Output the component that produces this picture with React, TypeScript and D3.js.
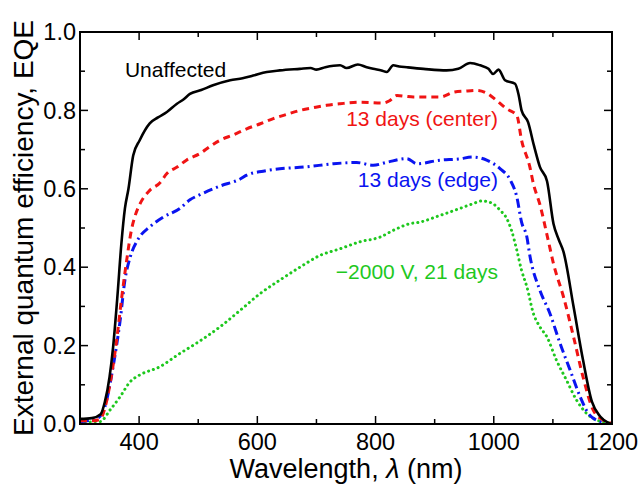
import React from "react";
import * as d3 from "d3";

// Wavelength (nm) and EQE samples for each curve
const unaffectedWl = [300, 320, 335, 342, 350, 356, 363, 370, 376, 382, 390, 401, 418, 432, 447, 464, 475, 486, 505, 525, 554, 575, 593, 616, 638, 672, 690, 700, 715, 740, 751, 770, 785, 796, 810, 819, 830, 840, 853, 881, 920, 940, 960, 977, 991, 999, 1008, 1019, 1036, 1042, 1047, 1058, 1068, 1078, 1090, 1101, 1110, 1118, 1135, 1151, 1166, 1180, 1194, 1200];
const unaffectedEqe = [0.013, 0.015, 0.025, 0.056, 0.12, 0.196, 0.32, 0.46, 0.55, 0.6, 0.685, 0.724, 0.767, 0.782, 0.796, 0.817, 0.828, 0.842, 0.852, 0.864, 0.877, 0.882, 0.889, 0.898, 0.902, 0.906, 0.908, 0.904, 0.91, 0.915, 0.908, 0.917, 0.91, 0.906, 0.902, 0.898, 0.915, 0.912, 0.91, 0.906, 0.902, 0.906, 0.921, 0.915, 0.906, 0.893, 0.904, 0.877, 0.868, 0.84, 0.8, 0.77, 0.71, 0.656, 0.62, 0.511, 0.47, 0.439, 0.299, 0.163, 0.057, 0.019, 0.003, 0.0];

const centerWl = [300, 320, 334, 342, 351, 362, 370, 379, 387, 393, 401, 418, 435, 447, 465, 480, 503, 520, 537, 560, 582, 605, 627, 650, 672, 695, 717, 740, 775, 813, 824, 836, 850, 864, 909, 934, 950, 971, 988, 1005, 1022, 1039, 1047, 1061, 1067, 1078, 1092, 1101, 1118, 1135, 1151, 1168, 1185, 1200];
const centerEqe = [0.008, 0.008, 0.012, 0.04, 0.104, 0.214, 0.316, 0.418, 0.495, 0.53, 0.56, 0.596, 0.615, 0.639, 0.656, 0.673, 0.69, 0.708, 0.724, 0.738, 0.753, 0.766, 0.779, 0.79, 0.8, 0.807, 0.813, 0.817, 0.821, 0.819, 0.825, 0.838, 0.836, 0.834, 0.834, 0.847, 0.849, 0.851, 0.844, 0.825, 0.804, 0.787, 0.724, 0.656, 0.613, 0.56, 0.469, 0.409, 0.324, 0.222, 0.12, 0.036, 0.01, 0.002];

const edgeWl = [300, 311, 330, 342, 356, 368, 376, 385, 399, 418, 441, 469, 486, 503, 537, 571, 582, 610, 638, 683, 729, 768, 796, 820, 853, 870, 909, 940, 965, 988, 1011, 1028, 1039, 1047, 1056, 1061, 1078, 1095, 1112, 1129, 1146, 1160, 1180, 1200];
const edgeEqe = [0.005, 0.008, 0.015, 0.044, 0.146, 0.265, 0.367, 0.426, 0.473, 0.503, 0.528, 0.55, 0.572, 0.585, 0.607, 0.625, 0.635, 0.645, 0.651, 0.656, 0.664, 0.667, 0.66, 0.668, 0.677, 0.664, 0.673, 0.676, 0.681, 0.673, 0.651, 0.622, 0.579, 0.515, 0.477, 0.43, 0.341, 0.282, 0.206, 0.138, 0.07, 0.027, 0.006, 0.0];

const pidWl = [300, 311, 334, 351, 368, 385, 401, 435, 469, 497, 537, 571, 605, 638, 672, 706, 740, 774, 808, 830, 858, 875, 909, 943, 965, 980, 996, 1011, 1022, 1030, 1039, 1047, 1056, 1067, 1078, 1090, 1106, 1123, 1140, 1157, 1174, 1200];
const pidEqe = [0.003, 0.005, 0.006, 0.036, 0.07, 0.108, 0.125, 0.146, 0.18, 0.206, 0.248, 0.29, 0.333, 0.367, 0.4, 0.43, 0.447, 0.465, 0.477, 0.494, 0.511, 0.515, 0.532, 0.55, 0.562, 0.569, 0.564, 0.545, 0.524, 0.494, 0.443, 0.392, 0.35, 0.282, 0.248, 0.222, 0.163, 0.112, 0.061, 0.027, 0.01, 0.002];

const xMajorTicks = [400, 600, 800, 1000, 1200];
const xMinorTicks = [300, 500, 700, 900, 1100];
const yMajorTicks = [0.0, 0.2, 0.4, 0.6, 0.8, 1.0];
const yMinorTicks = [0.1, 0.3, 0.5, 0.7, 0.9];

const W = 643;
const H = 496;
const M = { left: 80, right: 31, top: 32, bottom: 72 };
const FONT = "'Liberation Sans', Arial, Helvetica, sans-serif";

type Series = {
  wl: number[];
  eqe: number[];
  color: string;
  width: number;
  dash?: string;
  cap?: "butt" | "round";
  label: string;
  lx: number;
  ly: number;
  anchor: "start" | "end";
};

const series: Series[] = [
  { wl: pidWl, eqe: pidEqe, color: "#1ec81e", width: 3, dash: "0.1 5", cap: "round", label: "\u22122000 V, 21 days", lx: 1007, ly: 0.37, anchor: "end" },
  { wl: edgeWl, eqe: edgeEqe, color: "#0a14f0", width: 3, dash: "9 4 2 4", label: "13 days (edge)", lx: 1007, ly: 0.605, anchor: "end" },
  { wl: centerWl, eqe: centerEqe, color: "#f01414", width: 3, dash: "7 5", label: "13 days (center)", lx: 1007, ly: 0.76, anchor: "end" },
  { wl: unaffectedWl, eqe: unaffectedEqe, color: "#000000", width: 2.6, label: "Unaffected", lx: 376, ly: 0.886, anchor: "start" },
];

export default function App() {
  const x = d3.scaleLinear().domain([300, 1200]).range([M.left, W - M.right]);
  const y = d3.scaleLinear().domain([0, 1]).range([H - M.bottom, M.top]);
  const line = d3
    .line<[number, number]>()
    .x((d) => x(d[0]))
    .y((d) => y(d[1]))
    .curve(d3.curveMonotoneX);

  const x0 = M.left;
  const x1 = W - M.right;
  const y0 = H - M.bottom;
  const y1 = M.top;
  const majorLen = 8;
  const minorLen = 5;

  return (
    <svg
      width={W}
      height={H}
      style={{ position: "absolute", left: 0, top: 0, background: "#fff" }}
      fontFamily={FONT}
    >
      <defs>
        <clipPath id="plot-clip">
          <rect x={x0} y={y1} width={x1 - x0} height={y0 - y1} />
        </clipPath>
      </defs>

      <g clipPath="url(#plot-clip)">
        {series.map((s) => (
          <path
            key={s.label}
            d={line(s.wl.map((w, i) => [w, s.eqe[i]] as [number, number])) || ""}
            fill="none"
            stroke={s.color}
            strokeWidth={s.width}
            strokeDasharray={s.dash}
            strokeLinecap={s.cap || "butt"}
            strokeLinejoin="round"
          />
        ))}
      </g>

      {series.map((s) => (
        <text
          key={s.label + "-lbl"}
          x={x(s.lx)}
          y={y(s.ly)}
          fill={s.color === "#000000" ? "#000" : s.color}
          fontSize={21}
          textAnchor={s.anchor}
        >
          {s.label}
        </text>
      ))}

      {/* ticks on all four sides, pointing inward */}
      <g stroke="#000" strokeWidth={1.5}>
        {xMajorTicks.concat(xMinorTicks).map((t) => {
          const len = xMajorTicks.includes(t) ? majorLen : minorLen;
          return (
            <g key={"xt" + t}>
              <line x1={x(t)} x2={x(t)} y1={y0} y2={y0 - len} />
              <line x1={x(t)} x2={x(t)} y1={y1} y2={y1 + len} />
            </g>
          );
        })}
        {yMajorTicks.concat(yMinorTicks).map((t) => {
          const len = yMajorTicks.includes(t) ? majorLen : minorLen;
          return (
            <g key={"yt" + t}>
              <line x1={x0} x2={x0 + len} y1={y(t)} y2={y(t)} />
              <line x1={x1} x2={x1 - len} y1={y(t)} y2={y(t)} />
            </g>
          );
        })}
      </g>

      <rect x={x0} y={y1} width={x1 - x0} height={y0 - y1} fill="none" stroke="#000" strokeWidth={2} />

      {xMajorTicks.map((t) => (
        <text key={"xl" + t} x={x(t)} y={y0 + 26} textAnchor="middle" fontSize={23.5} fill="#000">
          {t}
        </text>
      ))}
      {yMajorTicks.map((t) => (
        <text key={"yl" + t} x={x0 - 4} y={y(t)} dy="0.35em" textAnchor="end" fontSize={23.5} fill="#000">
          {d3.format(".1f")(t)}
        </text>
      ))}

      <text x={(x0 + x1) / 2} y={H - 18} textAnchor="middle" fontSize={27} fill="#000">
        Wavelength, <tspan fontStyle="italic">λ</tspan> (nm)
      </text>
      <text
        transform={`translate(33, ${(y0 + y1) / 2}) rotate(-90)`}
        textAnchor="middle"
        fontSize={28}
        fill="#000"
      >
        External quantum efficiency, EQE
      </text>
    </svg>
  );
}
